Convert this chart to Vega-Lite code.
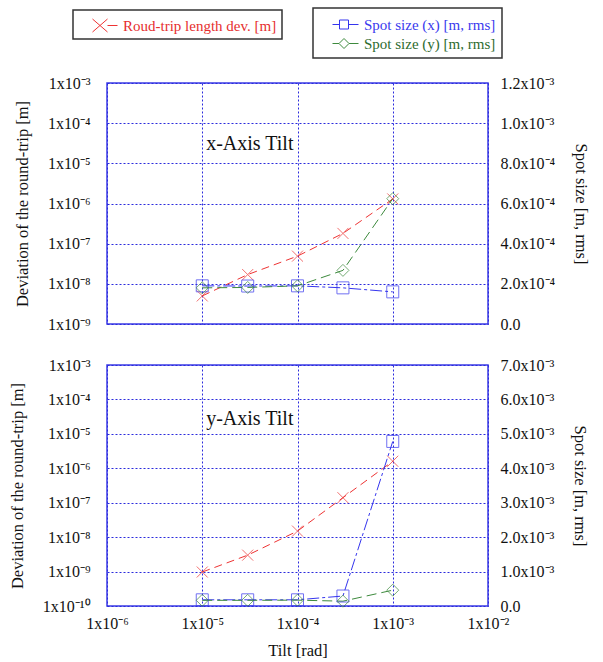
{
  "$schema": "https://vega.github.io/schema/vega-lite/v6.json",
  "padding": {"left": 8, "top": 7, "right": 5, "bottom": 5},
  "data": {"values": [
    {"panel": "x", "series": "Roud-trip length dev. [m]", "tilt": 1e-5, "value": 5e-9},
    {"panel": "x", "series": "Roud-trip length dev. [m]", "tilt": 3e-5, "value": 1.7e-8},
    {"panel": "x", "series": "Roud-trip length dev. [m]", "tilt": 1e-4, "value": 4.9e-8},
    {"panel": "x", "series": "Roud-trip length dev. [m]", "tilt": 3e-4, "value": 1.8e-7},
    {"panel": "x", "series": "Roud-trip length dev. [m]", "tilt": 1e-3, "value": 1.3e-6},
    {"panel": "x", "series": "Spot size (x) [m, rms]", "tilt": 1e-5, "value": 1.9e-4},
    {"panel": "x", "series": "Spot size (x) [m, rms]", "tilt": 3e-5, "value": 1.89e-4},
    {"panel": "x", "series": "Spot size (x) [m, rms]", "tilt": 1e-4, "value": 1.9e-4},
    {"panel": "x", "series": "Spot size (x) [m, rms]", "tilt": 3e-4, "value": 1.8e-4},
    {"panel": "x", "series": "Spot size (x) [m, rms]", "tilt": 1e-3, "value": 1.6e-4},
    {"panel": "x", "series": "Spot size (y) [m, rms]", "tilt": 1e-5, "value": 1.8e-4},
    {"panel": "x", "series": "Spot size (y) [m, rms]", "tilt": 3e-5, "value": 1.82e-4},
    {"panel": "x", "series": "Spot size (y) [m, rms]", "tilt": 1e-4, "value": 1.9e-4},
    {"panel": "x", "series": "Spot size (y) [m, rms]", "tilt": 3e-4, "value": 2.67e-4},
    {"panel": "x", "series": "Spot size (y) [m, rms]", "tilt": 1e-3, "value": 6.24e-4},
    {"panel": "y", "series": "Roud-trip length dev. [m]", "tilt": 1e-5, "value": 9.7e-10},
    {"panel": "y", "series": "Roud-trip length dev. [m]", "tilt": 3e-5, "value": 3e-9},
    {"panel": "y", "series": "Roud-trip length dev. [m]", "tilt": 1e-4, "value": 1.5e-8},
    {"panel": "y", "series": "Roud-trip length dev. [m]", "tilt": 3e-4, "value": 1.4e-7},
    {"panel": "y", "series": "Roud-trip length dev. [m]", "tilt": 1e-3, "value": 1.6e-6},
    {"panel": "y", "series": "Spot size (x) [m, rms]", "tilt": 1e-5, "value": 1.8e-4},
    {"panel": "y", "series": "Spot size (x) [m, rms]", "tilt": 3e-5, "value": 1.8e-4},
    {"panel": "y", "series": "Spot size (x) [m, rms]", "tilt": 1e-4, "value": 1.8e-4},
    {"panel": "y", "series": "Spot size (x) [m, rms]", "tilt": 3e-4, "value": 2.9e-4},
    {"panel": "y", "series": "Spot size (x) [m, rms]", "tilt": 1e-3, "value": 4.78e-3},
    {"panel": "y", "series": "Spot size (y) [m, rms]", "tilt": 1e-5, "value": 1.65e-4},
    {"panel": "y", "series": "Spot size (y) [m, rms]", "tilt": 3e-5, "value": 1.65e-4},
    {"panel": "y", "series": "Spot size (y) [m, rms]", "tilt": 1e-4, "value": 1.7e-4},
    {"panel": "y", "series": "Spot size (y) [m, rms]", "tilt": 3e-4, "value": 1.4e-4},
    {"panel": "y", "series": "Spot size (y) [m, rms]", "tilt": 1e-3, "value": 4.6e-4}
  ]},
  "spacing": 23,
  "resolve": {"scale": {"y": "independent"}},
  "vconcat": [
    {
      "width": 381,
      "height": 241,
      "resolve": {"scale": {"y": "independent"}},
      "layer": [
        {
          "layer": [
            {
              "transform": [{"filter": "datum.panel === 'x' && datum.series === 'Roud-trip length dev. [m]'"}],
              "mark": {"type": "line", "strokeDash": [8, 5], "strokeWidth": 1},
              "encoding": {
                "x": {"field": "tilt", "type": "quantitative", "scale": {"type": "log", "domain": [1e-6, 1e-2]},
                      "axis": {"values": [1e-6, 1e-5, 1e-4, 1e-3, 1e-2], "labels": false, "ticks": false, "title": null, "grid": true}},
                "y": {"field": "value", "type": "quantitative", "scale": {"type": "log", "domain": [1e-9, 1e-3]},
                      "axis": {"orient": "left", "values": [1e-9, 1e-8, 1e-7, 1e-6, 1e-5, 1e-4, 1e-3], "tickCount": 10, "grid": true, "labelOverlap": false,
                               "labelExpr": "'1x10' + replace(replace(replace(replace(replace(replace(replace(replace(replace(replace(replace('' + round(log(datum.value)/LN10),'-','⁻'),'0','⁰'),'1','¹'),'2','²'),'3','³'),'4','⁴'),'5','⁵'),'6','⁶'),'7','⁷'),'8','⁸'),'9','⁹')",
                               "title": "Deviation of the round-trip [m]", "labelPadding": 17, "titlePadding": 17}},
                "stroke": {"field": "series", "type": "nominal",
                           "scale": {"domain": ["Roud-trip length dev. [m]"], "range": ["#ee3333"]},
                           "legend": {"title": null, "orient": "none", "legendX": -34, "legendY": -73,
                                      "symbolType": "M0.4,-0.65L1.9,0.65M0.4,0.65L1.9,-0.65M1.9,0H2.9",
                                      "symbolSize": 400, "symbolStrokeWidth": 1, "labelColor": "#e62e2e",
                                      "padding": 5, "strokeColor": "#333333", "labelOffset": 24,
                                      "encode": {"legend": {"update": {"strokeWidth": {"value": 1.5}}},
                                                 "symbols": {"update": {"fill": {"value": "transparent"}, "strokeDash": {"value": []}}}}}}
              }
            },
            {
              "transform": [{"filter": "datum.panel === 'x' && datum.series === 'Roud-trip length dev. [m]'"}],
              "mark": {"type": "point", "shape": "M-1,-1L1,1M-1,1L1,-1", "size": 121, "filled": false, "strokeWidth": 1, "color": "#ee3333"},
              "encoding": {
                "x": {"field": "tilt", "type": "quantitative"},
                "y": {"field": "value", "type": "quantitative"}
              }
            },
            {
              "data": {"values": [{"tilt": 1.1e-5, "value": 3e-5, "label": "x-Axis Tilt"}]},
              "mark": {"type": "text", "align": "left", "baseline": "middle", "fontSize": 20, "font": "Liberation Serif", "color": "#111111"},
              "encoding": {
                "x": {"field": "tilt", "type": "quantitative"},
                "y": {"field": "value", "type": "quantitative"},
                "text": {"field": "label"}
              }
            }
          ]
        },
        {
          "layer": [
            {
              "transform": [{"filter": "datum.panel === 'x' && datum.series === 'Spot size (x) [m, rms]'"}],
              "mark": {"type": "line", "strokeWidth": 1, "strokeDash": [12, 3, 3, 3]},
              "encoding": {
                "x": {"field": "tilt", "type": "quantitative"},
                "y": {"field": "value", "type": "quantitative", "scale": {"domain": [0, 0.0012]},
                      "axis": {"orient": "right", "values": [0, 0.0002, 0.0004, 0.0006, 0.0008, 0.001, 0.0012], "tickCount": 10, "grid": false, "labelOverlap": false,
                               "labelExpr": "datum.value <= 0 ? '0.0' : format(datum.value / pow(10, floor(log(datum.value)/LN10 + 1e-9)), '.1f') + 'x10' + replace(replace(replace(replace(replace(replace(replace(replace(replace(replace(replace('' + floor(log(datum.value)/LN10 + 1e-9),'-','⁻'),'0','⁰'),'1','¹'),'2','²'),'3','³'),'4','⁴'),'5','⁵'),'6','⁶'),'7','⁷'),'8','⁸'),'9','⁹')",
                               "title": "Spot size [m, rms]", "labelPadding": 12, "titlePadding": 18}},
                "color": {"field": "series", "type": "nominal",
                          "scale": {"domain": ["Spot size (x) [m, rms]", "Spot size (y) [m, rms]"], "range": ["#3535ee", "#3d8a3d"]},
                          "legend": {"title": null, "orient": "none", "legendX": 206, "legendY": -75,
                                     "symbolSize": 400, "symbolStrokeWidth": 1, "padding": 6, "rowPadding": -2,
                                     "strokeColor": "#333333", "labelOffset": 24,
                                     "encode": {
                                       "legend": {"update": {"strokeWidth": {"value": 1.5}}},
                                       "symbols": {"update": {
                                         "fill": {"value": "transparent"},
                                         "strokeDash": {"value": []},
                                         "shape": {"signal": "datum.value === 'Spot size (x) [m, rms]' ? 'M0.3,0H1M1.9,0H2.9M1,-0.45H1.9V0.45H1Z' : 'M0.3,0H0.95M1.95,0H2.9M0.95,0L1.45,-0.5L1.95,0L1.45,0.5Z'"}
                                       }},
                                       "labels": {"update": {
                                         "fill": {"signal": "datum.value === 'Spot size (x) [m, rms]' ? '#3a3aee' : '#2e6b2e'"}
                                       }}
                                     }}}
              }
            },
            {
              "transform": [{"filter": "datum.panel === 'x' && datum.series === 'Spot size (y) [m, rms]'"}],
              "mark": {"type": "line", "strokeWidth": 1, "strokeDash": [10, 5]},
              "encoding": {
                "x": {"field": "tilt", "type": "quantitative"},
                "y": {"field": "value", "type": "quantitative"},
                "color": {"field": "series", "type": "nominal"}
              }
            },
            {
              "transform": [{"filter": "datum.panel === 'x' && datum.series === 'Spot size (x) [m, rms]'"}],
              "mark": {"type": "point", "shape": "square", "size": 144, "filled": false, "strokeWidth": 1, "color": "#3535ee"},
              "encoding": {
                "x": {"field": "tilt", "type": "quantitative"},
                "y": {"field": "value", "type": "quantitative"}
              }
            },
            {
              "transform": [{"filter": "datum.panel === 'x' && datum.series === 'Spot size (y) [m, rms]'"}],
              "mark": {"type": "point", "shape": "diamond", "size": 144, "filled": false, "strokeWidth": 1, "color": "#3d8a3d"},
              "encoding": {
                "x": {"field": "tilt", "type": "quantitative"},
                "y": {"field": "value", "type": "quantitative"}
              }
            }
          ]
        }
      ]
    },
    {
      "width": 381,
      "height": 241,
      "resolve": {"scale": {"y": "independent"}},
      "layer": [
        {
          "layer": [
            {
              "transform": [{"filter": "datum.panel === 'y' && datum.series === 'Roud-trip length dev. [m]'"}],
              "mark": {"type": "line", "strokeDash": [8, 5], "strokeWidth": 1},
              "encoding": {
                "x": {"field": "tilt", "type": "quantitative", "scale": {"type": "log", "domain": [1e-6, 1e-2]},
                      "axis": {"values": [1e-6, 1e-5, 1e-4, 1e-3, 1e-2], "tickCount": 10, "grid": true, "ticks": false, "labelOverlap": false,
                               "labelExpr": "'1x10' + replace(replace(replace(replace(replace(replace(replace(replace(replace(replace(replace('' + round(log(datum.value)/LN10),'-','⁻'),'0','⁰'),'1','¹'),'2','²'),'3','³'),'4','⁴'),'5','⁵'),'6','⁶'),'7','⁷'),'8','⁸'),'9','⁹')",
                               "title": "Tilt [rad]", "labelPadding": 9, "titlePadding": 11}},
                "y": {"field": "value", "type": "quantitative", "scale": {"type": "log", "domain": [1e-10, 1e-3]},
                      "axis": {"orient": "left", "values": [1e-10, 1e-9, 1e-8, 1e-7, 1e-6, 1e-5, 1e-4, 1e-3], "tickCount": 10, "grid": true, "labelOverlap": false,
                               "labelExpr": "'1x10' + replace(replace(replace(replace(replace(replace(replace(replace(replace(replace(replace('' + round(log(datum.value)/LN10),'-','⁻'),'0','⁰'),'1','¹'),'2','²'),'3','³'),'4','⁴'),'5','⁵'),'6','⁶'),'7','⁷'),'8','⁸'),'9','⁹')",
                               "title": "Deviation of the round-trip [m]", "labelPadding": 17, "titlePadding": 17}},
                "stroke": {"field": "series", "type": "nominal"}
              }
            },
            {
              "transform": [{"filter": "datum.panel === 'y' && datum.series === 'Roud-trip length dev. [m]'"}],
              "mark": {"type": "point", "shape": "M-1,-1L1,1M-1,1L1,-1", "size": 121, "filled": false, "strokeWidth": 1, "color": "#ee3333"},
              "encoding": {
                "x": {"field": "tilt", "type": "quantitative"},
                "y": {"field": "value", "type": "quantitative"}
              }
            },
            {
              "data": {"values": [{"tilt": 1.1e-5, "value": 2.75e-5, "label": "y-Axis Tilt"}]},
              "mark": {"type": "text", "align": "left", "baseline": "middle", "fontSize": 20, "font": "Liberation Serif", "color": "#111111"},
              "encoding": {
                "x": {"field": "tilt", "type": "quantitative"},
                "y": {"field": "value", "type": "quantitative"},
                "text": {"field": "label"}
              }
            }
          ]
        },
        {
          "layer": [
            {
              "transform": [{"filter": "datum.panel === 'y' && datum.series === 'Spot size (x) [m, rms]'"}],
              "mark": {"type": "line", "strokeWidth": 1, "strokeDash": [12, 3, 3, 3]},
              "encoding": {
                "x": {"field": "tilt", "type": "quantitative"},
                "y": {"field": "value", "type": "quantitative", "scale": {"domain": [0, 0.007]},
                      "axis": {"orient": "right", "values": [0, 0.001, 0.002, 0.003, 0.004, 0.005, 0.006, 0.007], "tickCount": 10, "grid": false, "labelOverlap": false,
                               "labelExpr": "datum.value <= 0 ? '0.0' : format(datum.value / pow(10, floor(log(datum.value)/LN10 + 1e-9)), '.1f') + 'x10' + replace(replace(replace(replace(replace(replace(replace(replace(replace(replace(replace('' + floor(log(datum.value)/LN10 + 1e-9),'-','⁻'),'0','⁰'),'1','¹'),'2','²'),'3','³'),'4','⁴'),'5','⁵'),'6','⁶'),'7','⁷'),'8','⁸'),'9','⁹')",
                               "title": "Spot size [m, rms]", "labelPadding": 12, "titlePadding": 18}},
                "color": {"field": "series", "type": "nominal"}
              }
            },
            {
              "transform": [{"filter": "datum.panel === 'y' && datum.series === 'Spot size (y) [m, rms]'"}],
              "mark": {"type": "line", "strokeWidth": 1, "strokeDash": [10, 5]},
              "encoding": {
                "x": {"field": "tilt", "type": "quantitative"},
                "y": {"field": "value", "type": "quantitative"},
                "color": {"field": "series", "type": "nominal"}
              }
            },
            {
              "transform": [{"filter": "datum.panel === 'y' && datum.series === 'Spot size (x) [m, rms]'"}],
              "mark": {"type": "point", "shape": "square", "size": 144, "filled": false, "strokeWidth": 1, "color": "#3535ee"},
              "encoding": {
                "x": {"field": "tilt", "type": "quantitative"},
                "y": {"field": "value", "type": "quantitative"}
              }
            },
            {
              "transform": [{"filter": "datum.panel === 'y' && datum.series === 'Spot size (y) [m, rms]'"}],
              "mark": {"type": "point", "shape": "diamond", "size": 144, "filled": false, "strokeWidth": 1, "color": "#3d8a3d"},
              "encoding": {
                "x": {"field": "tilt", "type": "quantitative"},
                "y": {"field": "value", "type": "quantitative"}
              }
            }
          ]
        }
      ]
    }
  ],
  "config": {
    "font": "Liberation Serif",
    "view": {"stroke": "#3b3be6", "strokeWidth": 1.5},
    "axis": {"labelFont": "Liberation Serif", "titleFont": "Liberation Serif", "labelFontSize": 16, "titleFontSize": 16.5,
             "titleFontWeight": "normal", "labelColor": "#111111", "titleColor": "#111111", "domain": false, "ticks": false,
             "gridColor": "#2b2bdd", "gridDash": [2, 2], "gridOpacity": 1, "gridWidth": 1,
             "labelFlush": false, "labelOverlap": false, "labelBound": false},
    "legend": {"labelFont": "Liberation Serif", "labelFontSize": 15, "labelLimit": 400}
  }
}
